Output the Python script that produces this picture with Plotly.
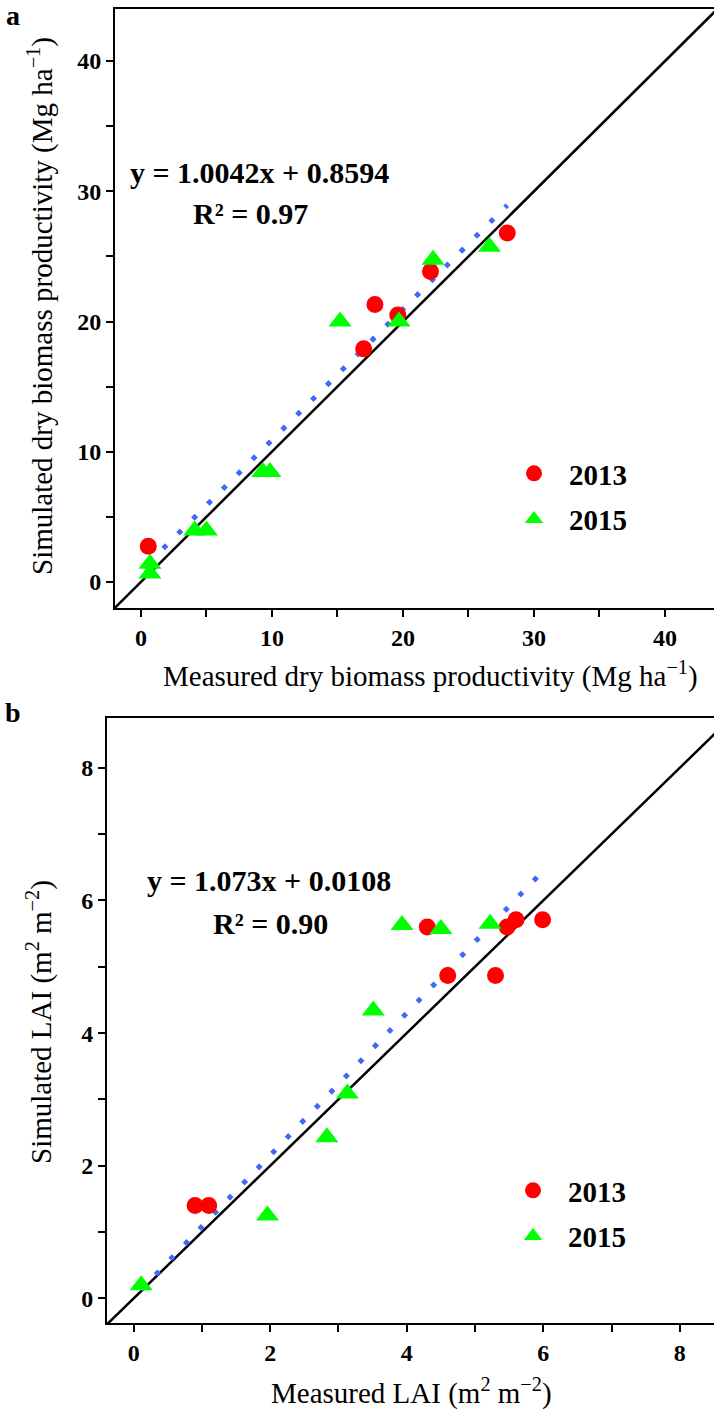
import plotly.graph_objects as go

# ---------------- Data: panel a (dry biomass productivity, Mg ha-1) ----------------
a_2013_measured = [27.96, 22.1, 17.86, 19.6, 17.0, 0.56]
a_2013_simulated = [26.8, 23.85, 21.3, 20.5, 17.9, 2.75]
a_2015_measured = [15.2, 19.7, 22.3, 26.6, 0.69, 0.69, 4.1, 5.0, 9.3, 9.85]
a_2015_simulated = [20.0, 20.0, 24.75, 25.75, 1.4, 0.65, 3.95, 3.95, 8.45, 8.45]
a_slope, a_intercept = 1.0042, 0.8594
a_equation = "y = 1.0042x + 0.8594"
a_r2 = "R² = 0.97"
a_ticks = [0, 10, 20, 30, 40]
a_range = [-1.98, 43.74]
a_yrange = [-2.0, 44.0]
a_one_to_one = [-10, 60]

# ---------------- Data: panel b (LAI, m2 m-2) ----------------
b_2013_measured = [4.30, 5.47, 5.60, 5.99, 4.60, 5.30, 0.90, 1.10]
b_2013_simulated = [5.60, 5.60, 5.71, 5.71, 4.87, 4.87, 1.40, 1.40]
b_2015_measured = [3.93, 4.50, 5.22, 3.51, 3.13, 2.83, 1.96, 0.11]
b_2015_simulated = [5.63, 5.57, 5.65, 4.34, 3.09, 2.43, 1.25, 0.20]
b_slope, b_intercept = 1.073, 0.0108
b_equation = "y = 1.073x + 0.0108"
b_r2 = "R² = 0.90"
b_ticks = [0, 2, 4, 6, 8]
b_range = [-0.39, 8.5]
b_yrange = [-0.37, 8.75]
b_one_to_one = [-2, 12]

series_names = ["2013", "2015"]

RED = "#FF0000"
GREEN = "#00FF00"
BLUE = "#3D6BF5"
SERIF = "Liberation Serif"

fig = go.Figure()


def add_panel(fig, xa, ya, m13, s13, m15, s15, slope, intercept, one, legend):
    all_x = m13 + m15
    x0, x1 = min(all_x), max(all_x)
    fig.add_trace(go.Scatter(x=one, y=one, mode="lines", xaxis=xa, yaxis=ya,
                             line=dict(color="black", width=2.5), showlegend=False,
                             hoverinfo="skip"))
    fig.add_trace(go.Scatter(x=[x0, x1], y=[slope * x0 + intercept, slope * x1 + intercept],
                             mode="lines", xaxis=xa, yaxis=ya, showlegend=False,
                             line=dict(color=BLUE, width=5, dash="5px,16px")))
    fig.add_trace(go.Scatter(x=m13, y=s13, mode="markers", name=series_names[0],
                             xaxis=xa, yaxis=ya, legend=legend, legendgroup=legend + "13",
                             marker=dict(symbol="circle", size=17, color=RED)))
    fig.add_trace(go.Scatter(x=m15, y=s15, mode="markers", name=series_names[1],
                             xaxis=xa, yaxis=ya, legend=legend, legendgroup=legend + "15",
                             marker=dict(symbol="triangle-up", size=20, color=GREEN)))


add_panel(fig, "x", "y", a_2013_measured, a_2013_simulated, a_2015_measured, a_2015_simulated,
          a_slope, a_intercept, a_one_to_one, "legend")
add_panel(fig, "x2", "y2", b_2013_measured, b_2013_simulated, b_2015_measured, b_2015_simulated,
          b_slope, b_intercept, b_one_to_one, "legend2")

W, H = 714, 1412


def px_x(p):
    return p / W


def px_y(p):
    return 1 - p / H


tickfont = dict(family=SERIF, size=24, color="black", weight="bold")
minor_common = dict(ticks="outside", ticklen=7, tickwidth=1.5, tickcolor="black")
axis_common = dict(showline=True, linecolor="black", linewidth=2,
                   ticks="outside", ticklen=7, tickwidth=1.5, tickcolor="black",
                   showgrid=False, zeroline=False, tickfont=tickfont)
legfont = dict(family=SERIF, size=29, color="black", weight="bold")

fig.update_layout(
    width=W, height=H,
    margin=dict(l=0, r=0, t=0, b=0),
    paper_bgcolor="white", plot_bgcolor="white",
    xaxis=dict(domain=[px_x(115), 1.0], range=a_range, anchor="y", tickvals=a_ticks, mirror=True,
               minor=dict(dtick=5, tick0=0, **minor_common), **axis_common),
    yaxis=dict(domain=[px_y(608), px_y(9)], range=a_yrange, anchor="x", tickvals=a_ticks, mirror=False,
               minor=dict(dtick=5, tick0=0, **minor_common), **axis_common),
    xaxis2=dict(domain=[px_x(107), 1.0], range=b_range, anchor="y2", tickvals=b_ticks, mirror=True,
                minor=dict(dtick=1, tick0=0, **minor_common), **axis_common),
    yaxis2=dict(domain=[px_y(1323), px_y(718)], range=b_yrange, anchor="x2", tickvals=b_ticks, mirror=False,
                minor=dict(dtick=1, tick0=0, **minor_common), **axis_common),
    legend=dict(x=px_x(499), y=px_y(448), xanchor="left", yanchor="top", font=legfont,
                bgcolor="rgba(0,0,0,0)", itemwidth=60, tracegroupgap=5, itemsizing="trace"),
    legend2=dict(x=px_x(498), y=px_y(1165), xanchor="left", yanchor="top", font=legfont,
                 bgcolor="rgba(0,0,0,0)", itemwidth=60, tracegroupgap=5, itemsizing="trace"),
)

eqfont = dict(family=SERIF, size=30, color="black", weight="bold")
titlefont = dict(family=SERIF, size=29, color="black")
panelfont = dict(family=SERIF, size=28, color="black", weight="bold")
ann = [
    dict(text=a_equation, x=px_x(259), y=px_y(172), font=eqfont),
    dict(text=a_r2, x=px_x(251), y=px_y(214), font=eqfont),
    dict(text=b_equation, x=px_x(269), y=px_y(880), font=eqfont),
    dict(text=b_r2, x=px_x(270), y=px_y(923), font=eqfont),
    dict(text="a", x=px_x(13), y=px_y(16), font=panelfont),
    dict(text="b", x=px_x(13), y=px_y(712), font=panelfont),
    dict(text="Measured dry biomass productivity (Mg ha<sup>−1</sup>)", x=px_x(430), y=px_y(674), font=titlefont),
    dict(text="Simulated dry biomass productivity (Mg ha<sup>−1</sup>)", x=px_x(40), y=px_y(306),
         textangle=-90, font=titlefont),
    dict(text="Measured LAI (m<sup>2</sup> m<sup>−2</sup>)", x=px_x(412), y=px_y(1391), font=titlefont),
    dict(text="Simulated LAI (m<sup>2</sup> m<sup>−2</sup>)", x=px_x(40), y=px_y(1022),
         textangle=-90, font=titlefont),
]
for a in ann:
    a.update(xref="paper", yref="paper", showarrow=False, xanchor="center", yanchor="middle")
fig.update_layout(annotations=ann)

# remove the default 8px page margin so the figure fills the window exactly
fig.write_html("out.html", config={"displayModeBar": False},
               post_script="document.body.style.margin='0';")
